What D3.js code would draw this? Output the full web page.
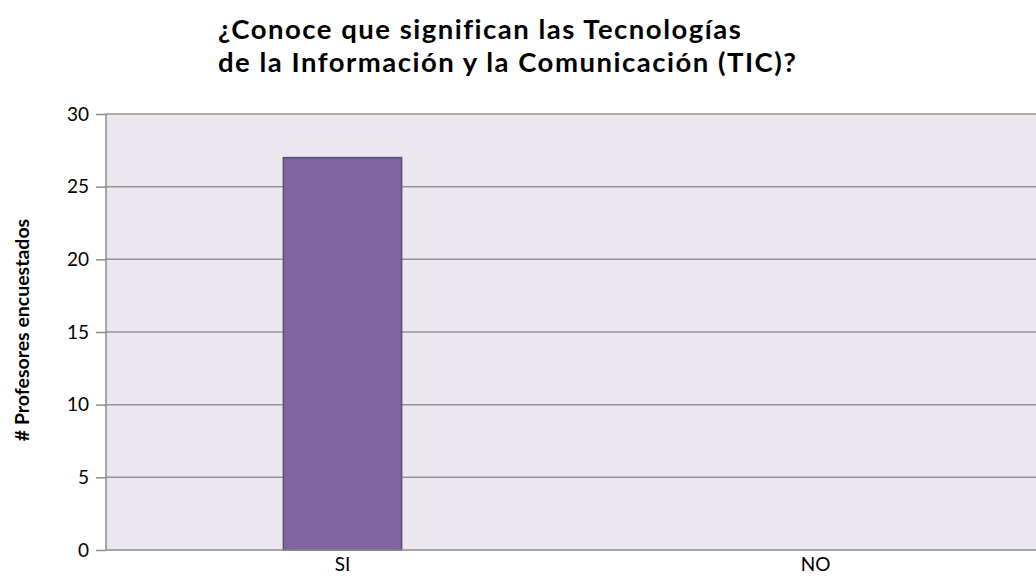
<!DOCTYPE html>
<meta charset="utf-8">
<style>
body { margin: 0; background: #fff; }
text { font-family: Lato, "Liberation Sans", sans-serif; }
.grid line { stroke: #959595; stroke-width: 1.5px; }
.axis path, .axis line { stroke: #8c8c8c; stroke-width: 1.5px; }
.axis text { font-size: 19px; fill: #000; }
</style>
<svg width="1036" height="578"></svg>
<script src="https://d3js.org/d3.v7.min.js"></script>
<script>

var categories = ["SI", "NO"];
var values = [27, 0];
var yTicks = [0, 5, 10, 15, 20, 25, 30];
var titleLines = ["¿Conoce que significan las Tecnologías", "de la Información y la Comunicación (TIC)?"];
var yTitle = "# Profesores encuestados";

var svg = d3.select("svg");
var margin = {left: 106, top: 114, right: -16, bottom: 28};
var width = 1036 - margin.left - margin.right,
    height = 578 - margin.top - margin.bottom;

var g = svg.append("g").attr("transform", "translate(" + margin.left + "," + margin.top + ")");

var x = d3.scaleBand().domain(categories).range([0, width]).paddingInner(0.75).paddingOuter(0.375);
var y = d3.scaleLinear().domain([0, 30]).range([height, 0]);

// plot area
g.append("rect").attr("width", width).attr("height", height).attr("fill", "#eae7ef");

g.append("g").attr("class", "grid")
  .selectAll("line").data(yTicks.filter(function(d) { return d > 0; })).enter()
  .append("line")
    .attr("x1", 0).attr("x2", width)
    .attr("y1", function(d) { return y(d); })
    .attr("y2", function(d) { return y(d); });

g.selectAll(".bar").data(values).enter()
  .append("rect")
    .attr("class", "bar")
    .attr("x", function(d, i) { return x(categories[i]); })
    .attr("y", function(d) { return y(d); })
    .attr("width", x.bandwidth())
    .attr("height", function(d) { return height - y(d); })
    .attr("fill", "#8064a2")
    .attr("stroke", "#5f4a7c")
    .attr("stroke-width", 1.5);

var yAxis = g.append("g").attr("class", "axis")
  .call(d3.axisLeft(y).tickValues(yTicks).tickSize(10).tickSizeOuter(0).tickPadding(7));
yAxis.select(".domain").attr("d", "M0," + height + "V0");

var xAxis = g.append("g").attr("class", "axis")
  .attr("transform", "translate(0," + height + ")")
  .call(d3.axisBottom(x).tickSize(0).tickPadding(8));
xAxis.select(".domain").attr("d", "M0,0H" + width);

svg.append("text")
  .attr("transform", "translate(29," + (margin.top + height / 2 - 2) + ") rotate(-90)")
  .attr("text-anchor", "middle")
  .style("font-size", "19.5px").style("font-weight", "bold")
  .text(yTitle);

svg.append("g").selectAll("text").data(titleLines).enter()
  .append("text")
    .attr("x", 218)
    .attr("y", function(d, i) { return 39 + i * 33; })
    .style("font-size", "27.5px").style("font-weight", "bold")
    .style("letter-spacing", "1.5px")
    .text(function(d) { return d; });
</script>
